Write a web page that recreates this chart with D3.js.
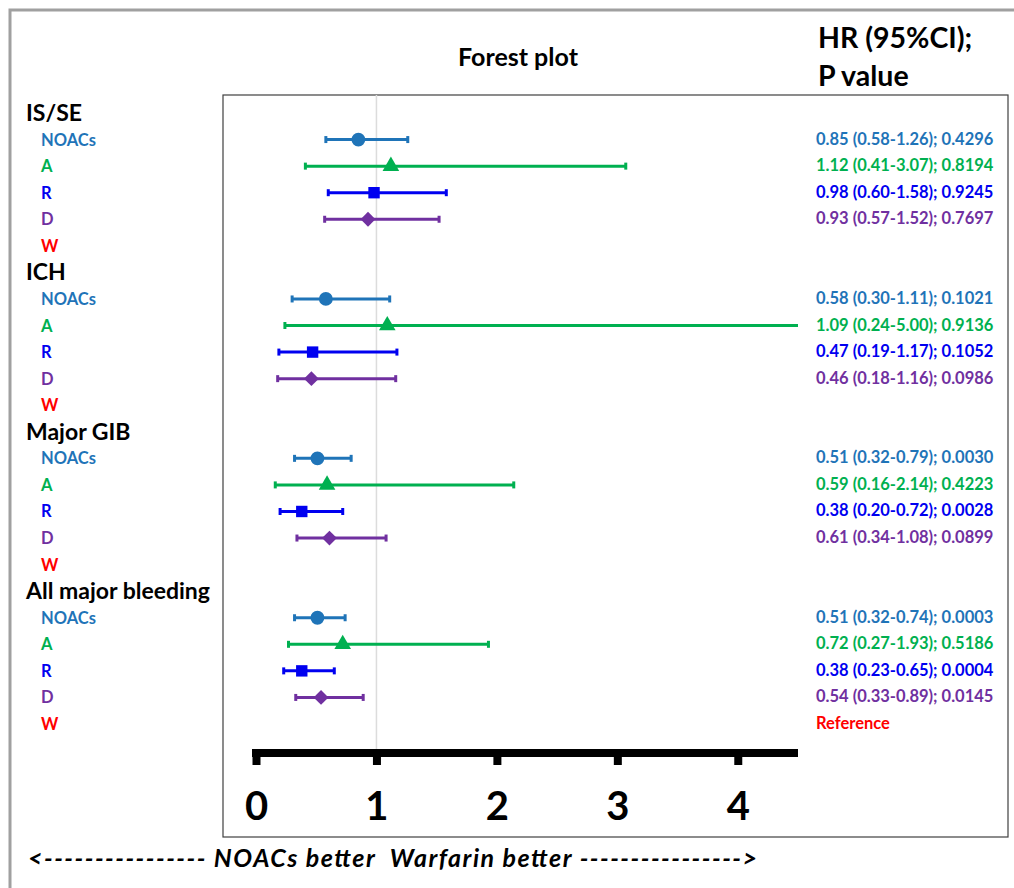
<!DOCTYPE html>
<html>
<head>
<meta charset="utf-8">
<script src="https://cdn.jsdelivr.net/npm/d3@7"></script>
<style>
  body { margin: 0; background: #fff; }
  svg { display: block; font-family: Lato, "Open Sans", sans-serif; }
</style>
</head>
<body>
<svg id="chart" width="1014" height="888"></svg>
<script>
// outcomes and drugs
var outcomes = ["IS/SE", "ICH", "Major GIB", "All major bleeding"];
var drugs = ["NOACs", "A", "R", "D", "W"];
var drugColors = ["#1f74b8", "#00b050", "#0000f0", "#7030a0", "#ff0000"];
var drugSymbols = [d3.symbolCircle, d3.symbolTriangle, d3.symbolSquare, d3.symbolSquare, null];

// HR, lower, upper, p (per outcome, per drug; W = reference)
var hr    = [[0.85, 1.12, 0.98, 0.93], [0.58, 1.09, 0.47, 0.46], [0.51, 0.59, 0.38, 0.61], [0.51, 0.72, 0.38, 0.54]];
var lower = [[0.58, 0.41, 0.60, 0.57], [0.30, 0.24, 0.19, 0.18], [0.32, 0.16, 0.20, 0.34], [0.32, 0.27, 0.23, 0.33]];
var upper = [[1.26, 3.07, 1.58, 1.52], [1.11, 5.00, 1.17, 1.16], [0.79, 2.14, 0.72, 1.08], [0.74, 1.93, 0.65, 0.89]];
var pval  = [["0.4296", "0.8194", "0.9245", "0.7697"], ["0.1021", "0.9136", "0.1052", "0.0986"],
             ["0.0030", "0.4223", "0.0028", "0.0899"], ["0.0003", "0.5186", "0.0004", "0.0145"]];
var xTicks = [0, 1, 2, 3, 4];

var svg = d3.select("#chart");
var width = 1014, height = 888;

var x = d3.scaleLinear().domain([0, 4.5]).range([256, 798]);
var y = d3.scaleLinear().domain([0, 23]).range([113, 724]);
var axisY = 753;
var box = {left: 223, top: 95, right: 1008, bottom: 837};

// outer frame
svg.append("rect")
  .attr("x", 10).attr("y", 10)
  .attr("width", width + 10).attr("height", height + 10)
  .attr("fill", "none").attr("stroke", "#a0a0a0").attr("stroke-width", 3);

// inner box
svg.append("rect")
  .attr("x", box.left).attr("y", box.top)
  .attr("width", box.right - box.left).attr("height", box.bottom - box.top)
  .attr("fill", "none").attr("stroke", "#404040").attr("stroke-width", 1.2);

// titles
svg.append("text").attr("x", 518).attr("y", 66)
  .attr("text-anchor", "middle").attr("font-size", 25).attr("font-weight", "bold")
  .text("Forest plot");
svg.append("text").attr("x", 818).attr("y", 48)
  .attr("font-size", 28.5).attr("font-weight", "bold").text("HR (95%CI);");
svg.append("text").attr("x", 818).attr("y", 86)
  .attr("font-size", 28.5).attr("font-weight", "bold").text("P value");

// reference line at HR = 1
svg.append("line")
  .attr("x1", x(1)).attr("x2", x(1))
  .attr("y1", box.top).attr("y2", axisY)
  .attr("stroke", "#dcdcdc").attr("stroke-width", 1.5);

// rows
var rows = [];
outcomes.forEach(function(o, gi) {
  rows.push({type: "header", label: o, idx: gi * 6});
  drugs.forEach(function(dr, di) {
    var r = {type: "drug", label: dr, idx: gi * 6 + 1 + di, di: di, gi: gi};
    if (di < 4) {
      r.hr = hr[gi][di]; r.lo = lower[gi][di]; r.hi = upper[gi][di]; r.p = pval[gi][di];
    }
    rows.push(r);
  });
});

svg.selectAll("text.header")
  .data(rows.filter(d => d.type === "header"))
  .enter().append("text")
  .attr("class", "header")
  .attr("x", 26).attr("y", d => y(d.idx) + 8)
  .attr("font-size", 23).attr("font-weight", "bold").attr("fill", "#000")
  .text(d => d.label);

var drugRows = rows.filter(d => d.type === "drug");

svg.selectAll("text.drug")
  .data(drugRows)
  .enter().append("text")
  .attr("class", "drug")
  .attr("x", 41).attr("y", d => y(d.idx) + 6)
  .attr("font-size", 16.5).attr("font-weight", "bold")
  .attr("fill", d => drugColors[d.di])
  .text(d => d.label);

// CI lines
var est = drugRows.filter(d => d.hr !== undefined);
var xmax = x.domain()[1];

svg.selectAll("line.ci")
  .data(est)
  .enter().append("line")
  .attr("class", "ci")
  .attr("x1", d => x(d.lo)).attr("x2", d => x(Math.min(d.hi, xmax)))
  .attr("y1", d => y(d.idx)).attr("y2", d => y(d.idx))
  .attr("stroke", d => drugColors[d.di]).attr("stroke-width", 3);

// caps
var caps = [];
est.forEach(function(d) {
  caps.push({v: d.lo, d: d});
  if (d.hi <= xmax) caps.push({v: d.hi, d: d});
});
svg.selectAll("line.cap")
  .data(caps)
  .enter().append("line")
  .attr("class", "cap")
  .attr("x1", c => x(c.v)).attr("x2", c => x(c.v))
  .attr("y1", c => y(c.d.idx) - 3.5).attr("y2", c => y(c.d.idx) + 3.5)
  .attr("stroke", c => drugColors[c.d.di]).attr("stroke-width", 3);

// point estimates (D = square turned 45 degrees)
var symSize = [150, 120, 130, 110];
svg.selectAll("path.pt")
  .data(est)
  .enter().append("path")
  .attr("class", "pt")
  .attr("transform", d => "translate(" + x(d.hr) + "," + y(d.idx) + ")" + (d.di === 3 ? " rotate(45)" : ""))
  .attr("d", d => d3.symbol().type(drugSymbols[d.di]).size(symSize[d.di])())
  .attr("fill", d => drugColors[d.di]);

// right-hand text
svg.selectAll("text.hrtext")
  .data(est)
  .enter().append("text")
  .attr("class", "hrtext")
  .attr("x", 816).attr("y", d => y(d.idx) + 5)
  .attr("font-size", 16.5).attr("font-weight", "bold")
  .attr("fill", d => drugColors[d.di])
  .text(d => d.hr.toFixed(2) + " (" + d.lo.toFixed(2) + "-" + d.hi.toFixed(2) + "); " + d.p);

svg.append("text")
  .attr("x", 816).attr("y", y(23) + 5)
  .attr("font-size", 16.5).attr("font-weight", "bold").attr("fill", drugColors[4])
  .text("Reference");

// x axis
var xAxis = d3.axisBottom(x)
  .tickValues(xTicks)
  .tickFormat(d3.format("d"))
  .tickSize(12)
  .tickSizeOuter(0)
  .tickPadding(27);

var gx = svg.append("g")
  .attr("transform", "translate(0," + axisY + ")")
  .call(xAxis);
gx.select(".domain")
  .attr("d", "M" + (x(0) - 4) + ",0H" + x(4.5))
  .attr("stroke", "#000").attr("stroke-width", 8);
gx.selectAll(".tick line").attr("stroke", "#000").attr("stroke-width", 8);
gx.selectAll(".tick text")
  .attr("font-family", "Lato, sans-serif")
  .attr("font-size", 40).attr("font-weight", "bold").attr("fill", "#000");

// direction note
svg.append("text")
  .attr("x", 28).attr("y", 867)
  .attr("font-size", 25).attr("font-weight", "bold").attr("font-style", "italic")
  .attr("textLength", 729).attr("lengthAdjust", "spacing")
  .style("white-space", "pre")
  .text("<---------------- NOACs better  Warfarin better ---------------->");
</script>
</body>
</html>
